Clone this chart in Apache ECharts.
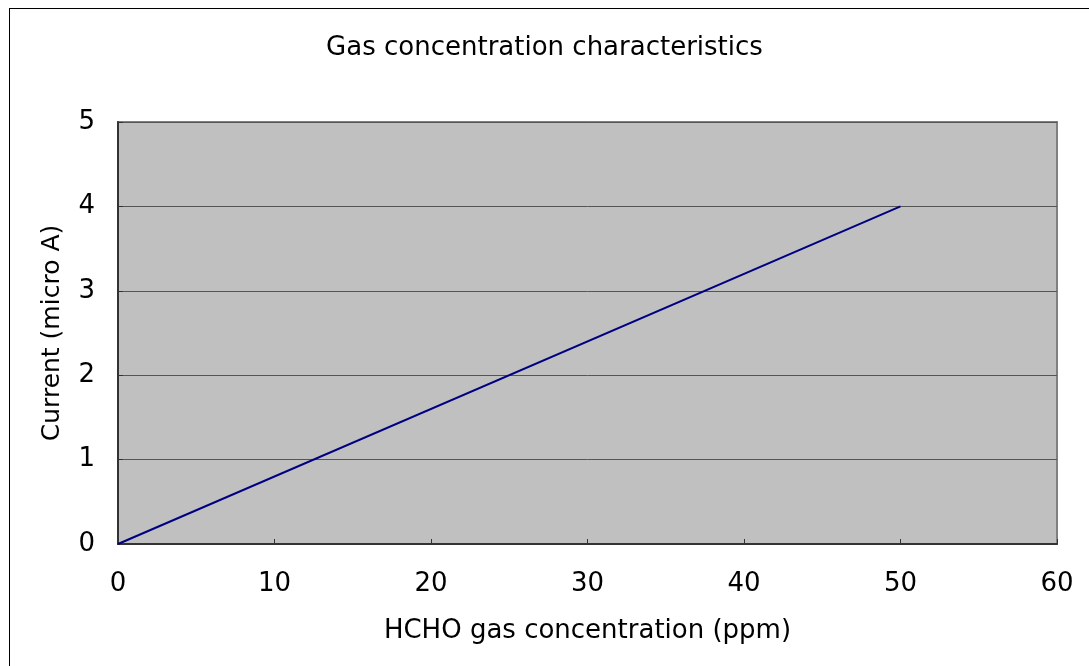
<!DOCTYPE html>
<html><head><meta charset="utf-8">
<script src="https://cdn.jsdelivr.net/npm/echarts@6/dist/echarts.min.js"></script>
<style>html,body{margin:0;padding:0;background:#fff;overflow:hidden}
#wrap{position:relative;width:1089px;height:666px;overflow:hidden}
#frame{position:absolute;left:9px;top:8px;width:1200px;height:800px;border-left:1.5px solid #000;border-top:1.5px solid #000;pointer-events:none}
#c{position:absolute;left:0;top:0;width:1089px;height:666px}</style>
</head><body><div id="wrap"><div id="c"></div><div id="frame"></div></div>
<script>
const xValues = [0, 50];
const currentValues = [0, 4];
const titleText = 'Gas concentration characteristics';
const xName = 'HCHO gas concentration (ppm)';
const yName = 'Current (micro A)';

const font = '"DejaVu Sans", sans-serif';
const chart = echarts.init(document.getElementById('c'));
chart.setOption({
  animation: false,
  backgroundColor: '#fff',
  title: {text: titleText, left: 'center', top: 30, textStyle:{fontFamily:font, fontWeight:'normal', fontSize:26, color:'#000'}},
  grid: {left:118, right:32, top:122, bottom:122, show:true, backgroundColor:'#c0c0c0', borderColor:'#808080', borderWidth:2},
  xAxis: {type:'value', min:0, max:60, interval:10, name:xName, nameLocation:'middle', nameGap:74,
    nameTextStyle:{fontFamily:font, fontSize:26, color:'#000'},
    axisLine:{lineStyle:{color:'#333', width:2}}, axisTick:{inside:true, length:5, lineStyle:{color:'#333'}},
    axisLabel:{fontFamily:font, fontSize:26, color:'#000', margin:27}, splitLine:{show:false}},
  yAxis: {type:'value', min:0, max:5, interval:1, name:yName, nameLocation:'middle', nameGap:53,
    nameTextStyle:{fontFamily:font, fontSize:25, color:'#000'},
    axisLine:{show:true, lineStyle:{color:'#333', width:2}}, axisTick:{show:true, inside:true, length:5, lineStyle:{color:'#333'}},
    axisLabel:{fontFamily:font, fontSize:26, color:'#000', margin:23}, splitLine:{show:true, lineStyle:{color:'#555', width:1}}},
  series: [{type:'line', data: xValues.map((x,i)=>[x, currentValues[i]]), showSymbol:false, lineStyle:{color:'#000080', width:2}}]
});
</script></body></html>
